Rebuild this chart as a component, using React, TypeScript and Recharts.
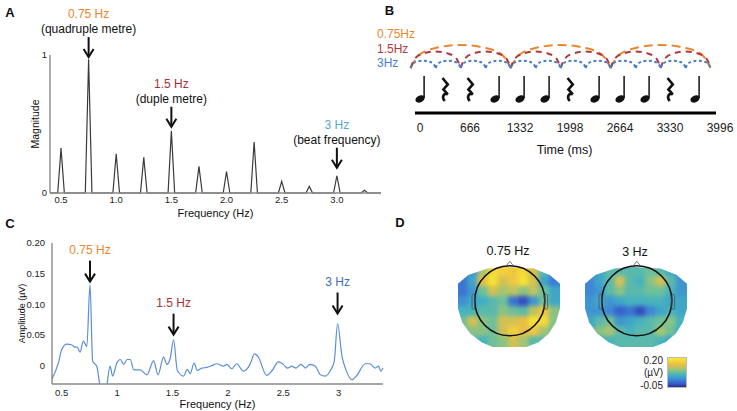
import React from "react";
import {
  LineChart,
  ComposedChart,
  ScatterChart,
  Line,
  Scatter,
  XAxis,
  YAxis,
  ReferenceDot,
  ReferenceLine,
  Label,
} from "recharts";

const FONT = '"Liberation Sans", Arial, Helvetica, sans-serif';
const ORANGE = "#e9872f";
const DARKRED = "#a83037";
const SKY = "#58a7d3";
const BLUE_C = "#3f6fbf";
const LINE_C = "#5b8fd7";

// ---- panel A: spectrum of the rhythm ----
const peakFreqs = [0.5, 0.75, 1.0, 1.25, 1.5, 1.75, 2.0, 2.25, 2.5, 2.75, 3.0, 3.25];
const peakMags = [0.325, 0.97, 0.284, 0.258, 0.45, 0.193, 0.156, 0.369, 0.084, 0.048, 0.125, 0.019];
const freqTicksA = [0.5, 1.0, 1.5, 2.0, 2.5, 3.0];
const magTicks = [0, 1];
const annoFreqsA = [0.75, 1.5, 3.0];
const annoTipsA = [0.985, 0.48, 0.183];
const annoHzA = ["0.75 Hz", "1.5 Hz", "3 Hz"];
const annoNotesA = ["(quadruple metre)", "(duple metre)", "(beat frequency)"];
const annoColorsA = [ORANGE, DARKRED, SKY];

// ---- panel B: rhythm and metre periods ----
const timeTicks = [0, 666, 1332, 1998, 2664, 3330, 3996];
const orangeEdges = [-125, 1207, 2539, 3871];
const redEdges = [-125, 541, 1207, 1873, 2539, 3205, 3871];
const blueEdges = [-125, 208, 541, 874, 1207, 1540, 1873, 2206, 2539, 2872, 3205, 3538, 3871];
const arcBase = 5.42;
const orangeHeight = 2.77;
const redHeight = 2.0;
const blueHeight = 0.88;
const arcFractions = [0, 0.08, 0.25, 0.5, 0.75, 0.92, 1];
const arcProfile = [0, 0.55, 0.87, 1, 0.87, 0.55, 0];
const noteTimes = [0, 333, 666, 999, 1332, 1665, 1998, 2331, 2664, 2997, 3330, 3663];
const noteKinds = ["note", "rest", "rest", "note", "note", "note", "rest", "note", "note", "note", "rest", "note"];
const noteLevel = 1.69;
const timelineStart = -67;
const timelineEnd = 3943;
const periodLabels = ["0.75Hz", "1.5Hz", "3Hz"];

// ---- panel C: EEG amplitude spectrum ----
const freqC = [
  0.413, 0.47, 0.5, 0.546, 0.59, 0.62, 0.64, 0.666, 0.696, 0.727,
  0.756, 0.78, 0.817, 0.846, 0.875, 0.907, 0.937, 0.96, 0.997, 1.03,
  1.06, 1.09, 1.12, 1.15, 1.21, 1.27, 1.33, 1.37, 1.42, 1.45,
  1.48, 1.51, 1.544, 1.6, 1.635, 1.66, 1.695, 1.725, 1.764, 1.81,
  1.855, 1.9, 1.96, 1.99, 2.035, 2.08, 2.14, 2.2, 2.24, 2.275,
  2.35, 2.4, 2.456, 2.5, 2.537, 2.577, 2.615, 2.66, 2.7, 2.74,
  2.79, 2.835, 2.88, 2.925, 2.96, 2.99, 3.03, 3.07, 3.12, 3.16,
  3.24, 3.28, 3.33, 3.36, 3.38, 3.4,
];
const ampC = [
  -0.022, 0.004, 0.026, 0.035, 0.034, 0.03, 0.03, 0.022, 0.04, 0.031,
  0.132, 0.007, -0.001, -0.034, -0.06, -0.034, -0.001, -0.017, 0.004, 0.01,
  0.002, 0.01, 0.01, -0.007, -0.007, -0.015, 0.008, -0.015, 0.014, 0.002,
  0.012, 0.042, -0.008, -0.017, -0.006, -0.013, 0.004, -0.008, -0.004, -0.003,
  0.0, 0.003, -0.001, 0.002, -0.005, 0.003, -0.009, 0.002, 0.019, 0.014,
  -0.016, -0.008, 0.006, 0.002, -0.004, -0.001, -0.004, 0.002, -0.004, 0.002,
  -0.001, -0.015, -0.017, -0.008, 0.007, 0.068, 0.015, -0.009, -0.023, -0.017,
  0.003, 0.003, -0.004, -0.001, -0.009, -0.004,
];
const freqTicksC = [0.5, 1, 1.5, 2, 2.5, 3];
const ampTicks = [0, 0.05, 0.1, 0.15, 0.2];
const annoFreqsC = [0.756, 1.51, 2.99];
const annoTipsC = [0.137, 0.0505, 0.085];
const annoHzC = ["0.75 Hz", "1.5 Hz", "3 Hz"];
const annoColorsC = [ORANGE, DARKRED, BLUE_C];

// ---- panel D: topographies (0 = -0.05 µV, 1 = 0.20 µV) ----
const topo075 = [
  [0.25, 0.3, 0.6, 0.9, 0.85, 0.8, 0.9, 0.7, 0.45, 0.3],
  [0.2, 0.35, 0.75, 0.95, 0.7, 0.8, 0.95, 0.7, 0.35, 0.22],
  [0.2, 0.3, 0.5, 0.7, 0.6, 0.65, 0.55, 0.65, 0.5, 0.35],
  [0.28, 0.35, 0.38, 0.45, 0.5, 0.2, 0.1, 0.3, 0.5, 0.35],
  [0.4, 0.4, 0.45, 0.45, 0.55, 0.5, 0.45, 0.65, 0.8, 0.55],
  [0.5, 0.7, 0.55, 0.5, 0.7, 0.7, 0.75, 0.95, 0.9, 0.55],
  [0.5, 0.55, 0.55, 0.5, 0.7, 0.85, 0.75, 0.8, 0.6, 0.5],
  [0.45, 0.45, 0.4, 0.5, 0.55, 0.7, 0.6, 0.45, 0.45, 0.45],
];
const topo3 = [
  [0.35, 0.35, 0.45, 0.45, 0.45, 0.45, 0.5, 0.45, 0.35, 0.3],
  [0.25, 0.35, 0.45, 0.7, 0.45, 0.4, 0.55, 0.7, 0.45, 0.3],
  [0.25, 0.3, 0.45, 0.55, 0.45, 0.45, 0.5, 0.5, 0.4, 0.3],
  [0.3, 0.35, 0.3, 0.35, 0.4, 0.4, 0.4, 0.4, 0.35, 0.35],
  [0.3, 0.3, 0.25, 0.15, 0.2, 0.1, 0.25, 0.35, 0.4, 0.35],
  [0.35, 0.45, 0.5, 0.3, 0.35, 0.4, 0.45, 0.5, 0.55, 0.4],
  [0.35, 0.55, 0.6, 0.45, 0.4, 0.45, 0.45, 0.6, 0.5, 0.35],
  [0.35, 0.4, 0.4, 0.45, 0.45, 0.45, 0.45, 0.4, 0.35, 0.35],
];
const headCentre = { c: 4.58, r: 2.88 };
const topoTitles = ["0.75 Hz", "3 Hz"];
const colorbarLabels = ["0.20", "(µV)", "-0.05"];

// built tables
const peakHalf = 0.03;
const spectrumA = [
  { f: 0.4, m: 0 },
  ...peakFreqs.flatMap((p, i) => [
    { f: p - peakHalf, m: 0 },
    { f: p, m: peakMags[i] },
    { f: p + peakHalf, m: 0 },
  ]),
  { f: 3.4, m: 0 },
];

const spectrumC = freqC.map((f, i) => ({ f, a: ampC[i] }));

const arcs = (edges: number[], h: number) =>
  edges.slice(0, -1).flatMap((a, i) => {
    const b = edges[i + 1];
    return [
      ...arcFractions.map((fr, k) => ({ t: a + fr * (b - a), v: arcBase + h * arcProfile[k] })),
      { t: b, v: null },
    ];
  });

const notes = noteTimes.map((t, i) => ({ t, v: noteLevel, kind: noteKinds[i] }));
const cellsOf = (rows: number[][]) => rows.flatMap((row, r) => row.map((v, c) => ({ c, r, v })));

// parula-like colormap
const cmap: [number, number[]][] = [
  [0, [42, 46, 140]],
  [0.12, [53, 86, 200]],
  [0.25, [63, 134, 214]],
  [0.38, [63, 176, 196]],
  [0.5, [111, 192, 154]],
  [0.62, [178, 197, 102]],
  [0.75, [233, 189, 69]],
  [0.88, [245, 214, 58]],
  [1, [247, 233, 47]],
];
const colorOf = (v: number) => {
  const x = Math.max(0, Math.min(1, v));
  for (let i = 1; i < cmap.length; i++) {
    if (x <= cmap[i][0]) {
      const [a, ca] = cmap[i - 1];
      const [b, cb] = cmap[i];
      const k = (x - a) / (b - a);
      const c = ca.map((q, j) => Math.round(q + k * (cb[j] - q)));
      return `rgb(${c[0]},${c[1]},${c[2]})`;
    }
  }
  return "rgb(247,233,47)";
};

const Arrow = ({ x, y, len }: { x: number; y: number; len: number }) => (
  <g>
    <line x1={x} y1={y - len} x2={x} y2={y - 1} stroke="#111" strokeWidth={2} />
    <polyline points={`${x - 5},${y - 8} ${x},${y} ${x + 5},${y - 8}`} fill="none" stroke="#111" strokeWidth={2} />
  </g>
);

const tickStyle = (size: number) => ({ fontSize: size, fill: "#222", fontFamily: FONT });

function PanelA() {
  return (
    <LineChart width={390} height={222} data={spectrumA} margin={{ top: 55, right: 9, left: 20, bottom: 0 }}>
      <XAxis
        dataKey="f"
        type="number"
        domain={[0.4, 3.4]}
        ticks={freqTicksA}
        interval={0}
        tickFormatter={(v) => Number(v).toFixed(1)}
        height={29}
        tickSize={0}
        tickMargin={3}
        axisLine={{ stroke: "#8a8a8a", strokeWidth: 1.4 }}
        tick={tickStyle(9.5)}
      >
        <Label value="Frequency (Hz)" position="insideBottom" offset={5.5} fontSize={11} fill="#111" />
      </XAxis>
      <YAxis
        type="number"
        domain={[0, 1]}
        ticks={magTicks}
        width={30}
        tickSize={0}
        tickMargin={3}
        axisLine={{ stroke: "#8a8a8a", strokeWidth: 1.4 }}
        tick={tickStyle(9.5)}
      >
        <Label value="Magnitude" angle={-90} position="center" fontSize={10.5} fill="#111" />
      </YAxis>
      <Line dataKey="m" type="linear" stroke="#3a3a3a" strokeWidth={1.2} dot={false} isAnimationActive={false} />
      {annoFreqsA.map((f, i) => (
        <ReferenceDot
          key={f}
          x={f}
          y={annoTipsA[i]}
          shape={(p: any) => (
            <g>
              <Arrow x={p.cx} y={p.cy} len={20} />
              <text x={p.cx} y={p.cy - 28} textAnchor="middle" dominantBaseline="central" fontSize={12} fill="#111">
                {annoNotesA[i]}
              </text>
              <text x={p.cx} y={p.cy - 43} textAnchor="middle" dominantBaseline="central" fontSize={12} fill={annoColorsA[i]}>
                {annoHzA[i]}
              </text>
            </g>
          )}
        />
      ))}
    </LineChart>
  );
}

const NoteShape = (p: any) => {
  const { cx, cy, payload } = p;
  if (payload.kind === "note") {
    return (
      <g>
        <ellipse cx={cx} cy={cy} rx={4.8} ry={3.4} transform={`rotate(-25 ${cx} ${cy})`} fill="#111" />
        <line x1={cx + 4.1} y1={cy - 1} x2={cx + 4.1} y2={cy - 23} stroke="#111" strokeWidth={1.5} />
      </g>
    );
  }
  const y = cy - 9;
  const x = cx;
  return (
    <path
      d={`M${x - 2.5},${y - 12} L${x + 2.8},${y - 5.5} L${x - 1.6},${y - 0.5} L${x + 2.8},${y + 4.5} C${x - 1},${y + 2.5} ${x - 3.8},${y + 6.5} ${x - 0.3},${y + 11}`}
      fill="none"
      stroke="#111"
      strokeWidth={2.6}
      strokeLinejoin="miter"
    />
  );
};

function PanelB() {
  return (
    <ComposedChart width={357} height={160} margin={{ top: 30, right: 16.7, left: 28.74, bottom: 0 }}>
      <XAxis
        dataKey="t"
        type="number"
        domain={[-150, 4000]}
        ticks={timeTicks}
        interval={0}
        height={47}
        tickSize={0}
        tickMargin={10}
        axisLine={false}
        tick={tickStyle(12)}
      >
        <Label value="Time (ms)" position="insideBottom" offset={5.7} fontSize={12.5} fill="#111" />
      </XAxis>
      <YAxis dataKey="v" type="number" domain={[0, 10]} hide />
      <ReferenceLine
        segment={[
          { x: timelineStart, y: 0 },
          { x: timelineEnd, y: 0 },
        ]}
        stroke="#000"
        strokeWidth={3}
      />
      <Line data={arcs(orangeEdges, orangeHeight)} dataKey="v" type="monotone" stroke={ORANGE} strokeWidth={2} strokeDasharray="9 5" dot={false} connectNulls={false} isAnimationActive={false} />
      <Line data={arcs(redEdges, redHeight)} dataKey="v" type="monotone" stroke="#b4373c" strokeWidth={2} strokeDasharray="6 5" dot={false} connectNulls={false} isAnimationActive={false} />
      <Line data={arcs(blueEdges, blueHeight)} dataKey="v" type="monotone" stroke="#4a7cce" strokeWidth={2} strokeDasharray="3 2.5" dot={false} connectNulls={false} isAnimationActive={false} />
      <Scatter data={notes} dataKey="v" shape={NoteShape} isAnimationActive={false} />
    </ComposedChart>
  );
}

function PanelC() {
  return (
    <LineChart width={400} height={181} data={spectrumC} margin={{ top: 13, right: 9, left: 0, bottom: 0 }}>
      <XAxis
        dataKey="f"
        type="number"
        domain={[0.413, 3.4]}
        ticks={freqTicksC}
        interval={0}
        height={27}
        tickSize={0}
        tickMargin={5}
        axisLine={{ stroke: "#8a8a8a", strokeWidth: 1.4 }}
        tick={tickStyle(9.5)}
      >
        <Label value="Frequency (Hz)" position="insideBottom" offset={3} fontSize={11} fill="#111" />
      </XAxis>
      <YAxis
        type="number"
        domain={[-0.03, 0.2]}
        allowDataOverflow
        ticks={ampTicks}
        interval={0}
        width={60}
        tickSize={0}
        tickMargin={7}
        tickFormatter={(v) => (v === 0 ? "0" : Number(v).toFixed(2))}
        axisLine={{ stroke: "#8a8a8a", strokeWidth: 1.4 }}
        tick={tickStyle(9.5)}
      >
        <Label value="Amplitude (µV)" angle={-90} position="center" fontSize={9} fill="#111" />
      </YAxis>
      <Line dataKey="a" type="monotone" stroke={LINE_C} strokeWidth={1.2} dot={false} isAnimationActive={false} />
      {annoFreqsC.map((f, i) => (
        <ReferenceDot
          key={f}
          x={f}
          y={annoTipsC[i]}
          shape={(p: any) => (
            <g>
              <Arrow x={p.cx} y={p.cy} len={21} />
              <text x={p.cx} y={p.cy - 32} textAnchor="middle" dominantBaseline="central" fontSize={12} fill={annoColorsC[i]}>
                {annoHzC[i]}
              </text>
            </g>
          )}
        />
      ))}
    </LineChart>
  );
}

// outline of the scalp region in percent of the map box
const scalpOutline = [
  [0.29, 0.02], [0.48, 0], [0.74, 0.02], [0.9, 0.1], [1, 0.21], [1, 0.52], [0.96, 0.69],
  [0.89, 0.83], [0.79, 0.94], [0.67, 1], [0.34, 1], [0.23, 0.94], [0.12, 0.83], [0.04, 0.69],
  [0, 0.52], [0, 0.21], [0.1, 0.1],
];
const PAD = 6;
const MAP_W = 102;
const MAP_H = 80;
const clipPoly =
  "polygon(" + scalpOutline.map(([x, y]) => `${(PAD + x * MAP_W).toFixed(1)}px ${(PAD + y * MAP_H).toFixed(1)}px`).join(", ") + ")";

const CellShape = (p: any) => {
  const { cx, cy, payload } = p;
  const w = MAP_W / 10;
  const h = MAP_H / 8;
  let x0 = cx - w / 2 - 1;
  let x1 = cx + w / 2 + 1;
  let y0 = cy - h / 2 - 1;
  let y1 = cy + h / 2 + 1;
  if (payload.c === 0) x0 -= PAD;
  if (payload.c === 9) x1 += PAD;
  if (payload.r === 0) y0 -= PAD;
  if (payload.r === 7) y1 += PAD;
  return <rect x={x0} y={y0} width={x1 - x0} height={y1 - y0} fill={colorOf(payload.v)} />;
};

const HeadShape = (p: any) => {
  const { cx, cy } = p;
  const r = 35;
  return (
    <g fill="none" stroke="#111">
      <circle cx={cx} cy={cy} r={r} strokeWidth={1.6} />
      <polyline points={`${cx - 4},${cy - r + 0.5} ${cx},${cy - r - 4.5} ${cx + 4},${cy - r + 0.5}`} strokeWidth={0.8} stroke="#555" />
      <rect x={cx - r - 2.8} y={cy - 6.5} width={2.8} height={15} rx={1.2} strokeWidth={0.8} stroke="#555" />
      <rect x={cx + r} y={cy - 6.5} width={2.8} height={15} rx={1.2} strokeWidth={0.8} stroke="#555" />
    </g>
  );
};

function Topo({ rows, left, top }: { rows: number[][]; left: number; top: number }) {
  return (
    <>
      <div
        style={{
          position: "absolute",
          left: left - PAD,
          top: top - PAD,
          width: MAP_W + 2 * PAD,
          height: MAP_H + 2 * PAD,
          filter: "blur(2.3px)",
          clipPath: clipPoly,
        }}
      >
        <ScatterChart width={MAP_W + 2 * PAD} height={MAP_H + 2 * PAD} margin={{ top: PAD, right: PAD, left: PAD, bottom: PAD }}>
          <XAxis dataKey="c" type="number" domain={[-0.5, 9.5]} hide />
          <YAxis dataKey="r" type="number" domain={[-0.5, 7.5]} reversed hide />
          <Scatter data={cellsOf(rows)} shape={CellShape} isAnimationActive={false} />
        </ScatterChart>
      </div>
      <div style={{ position: "absolute", left: left - 10, top: top - 12 }}>
        <ScatterChart width={MAP_W + 20} height={MAP_H + 20} margin={{ top: 12, right: 10, left: 10, bottom: 8 }}>
          <XAxis dataKey="c" type="number" domain={[-0.5, 9.5]} hide />
          <YAxis dataKey="r" type="number" domain={[-0.5, 7.5]} reversed hide />
          <Scatter data={[headCentre]} shape={HeadShape} isAnimationActive={false} />
        </ScatterChart>
      </div>
    </>
  );
}

const periodColors = [ORANGE, "#b4373c", "#4a7cce"];

export default function App() {
  return (
    <div
      style={{
        position: "fixed",
        left: 0,
        top: 0,
        width: 737,
        height: 411,
        background: "#fff",
        overflow: "hidden",
        fontFamily: FONT,
      }}
    >
      <div style={{ position: "absolute", left: 0, top: 0 }}>
        <PanelA />
      </div>
      <div style={{ position: "absolute", left: 380, top: 0 }}>
        <PanelB />
      </div>
      <div style={{ position: "absolute", left: -8, top: 230 }}>
        <PanelC />
      </div>
      <Topo rows={topo075} left={458} top={267} />
      <Topo rows={topo3} left={585} top={267} />
      <div
        style={{
          position: "absolute",
          left: 667,
          top: 357,
          width: 20,
          height: 31,
          boxSizing: "border-box",
          border: "0.5px solid #bbb",
          background:
            "linear-gradient(to top, #2a2e8c 0%, #3556c8 10%, #3f86d6 25%, #3fb0c4 40%, #6fc09a 52%, #b2c566 65%, #e9bd45 78%, #f5d63a 90%, #f7e92f 100%)",
        }}
      />
      <svg width={737} height={411} style={{ position: "absolute", left: 0, top: 0, pointerEvents: "none" }}>
        <g fontWeight="bold" fontSize={13} fill="#111">
          <text x={10} y={12.5} textAnchor="middle" dominantBaseline="central">A</text>
          <text x={389.5} y={10} textAnchor="middle" dominantBaseline="central">B</text>
          <text x={10} y={223} textAnchor="middle" dominantBaseline="central">C</text>
          <text x={400} y={222} textAnchor="middle" dominantBaseline="central">D</text>
        </g>
        {periodLabels.map((s, i) => (
          <text key={s} x={377} y={34 + i * 14.5} dominantBaseline="central" fontSize={12} fill={periodColors[i]}>
            {s}
          </text>
        ))}
        <text x={508} y={251} textAnchor="middle" dominantBaseline="central" fontSize={12.5} fill="#111">
          {topoTitles[0]}
        </text>
        <text x={635} y={252} textAnchor="middle" dominantBaseline="central" fontSize={12.5} fill="#111">
          {topoTitles[1]}
        </text>
        {colorbarLabels.map((s, i) => (
          <text key={s} x={663} y={360 + i * 12.5} textAnchor="end" dominantBaseline="central" fontSize={10} fill="#222">
            {s}
          </text>
        ))}
      </svg>
    </div>
  );
}
